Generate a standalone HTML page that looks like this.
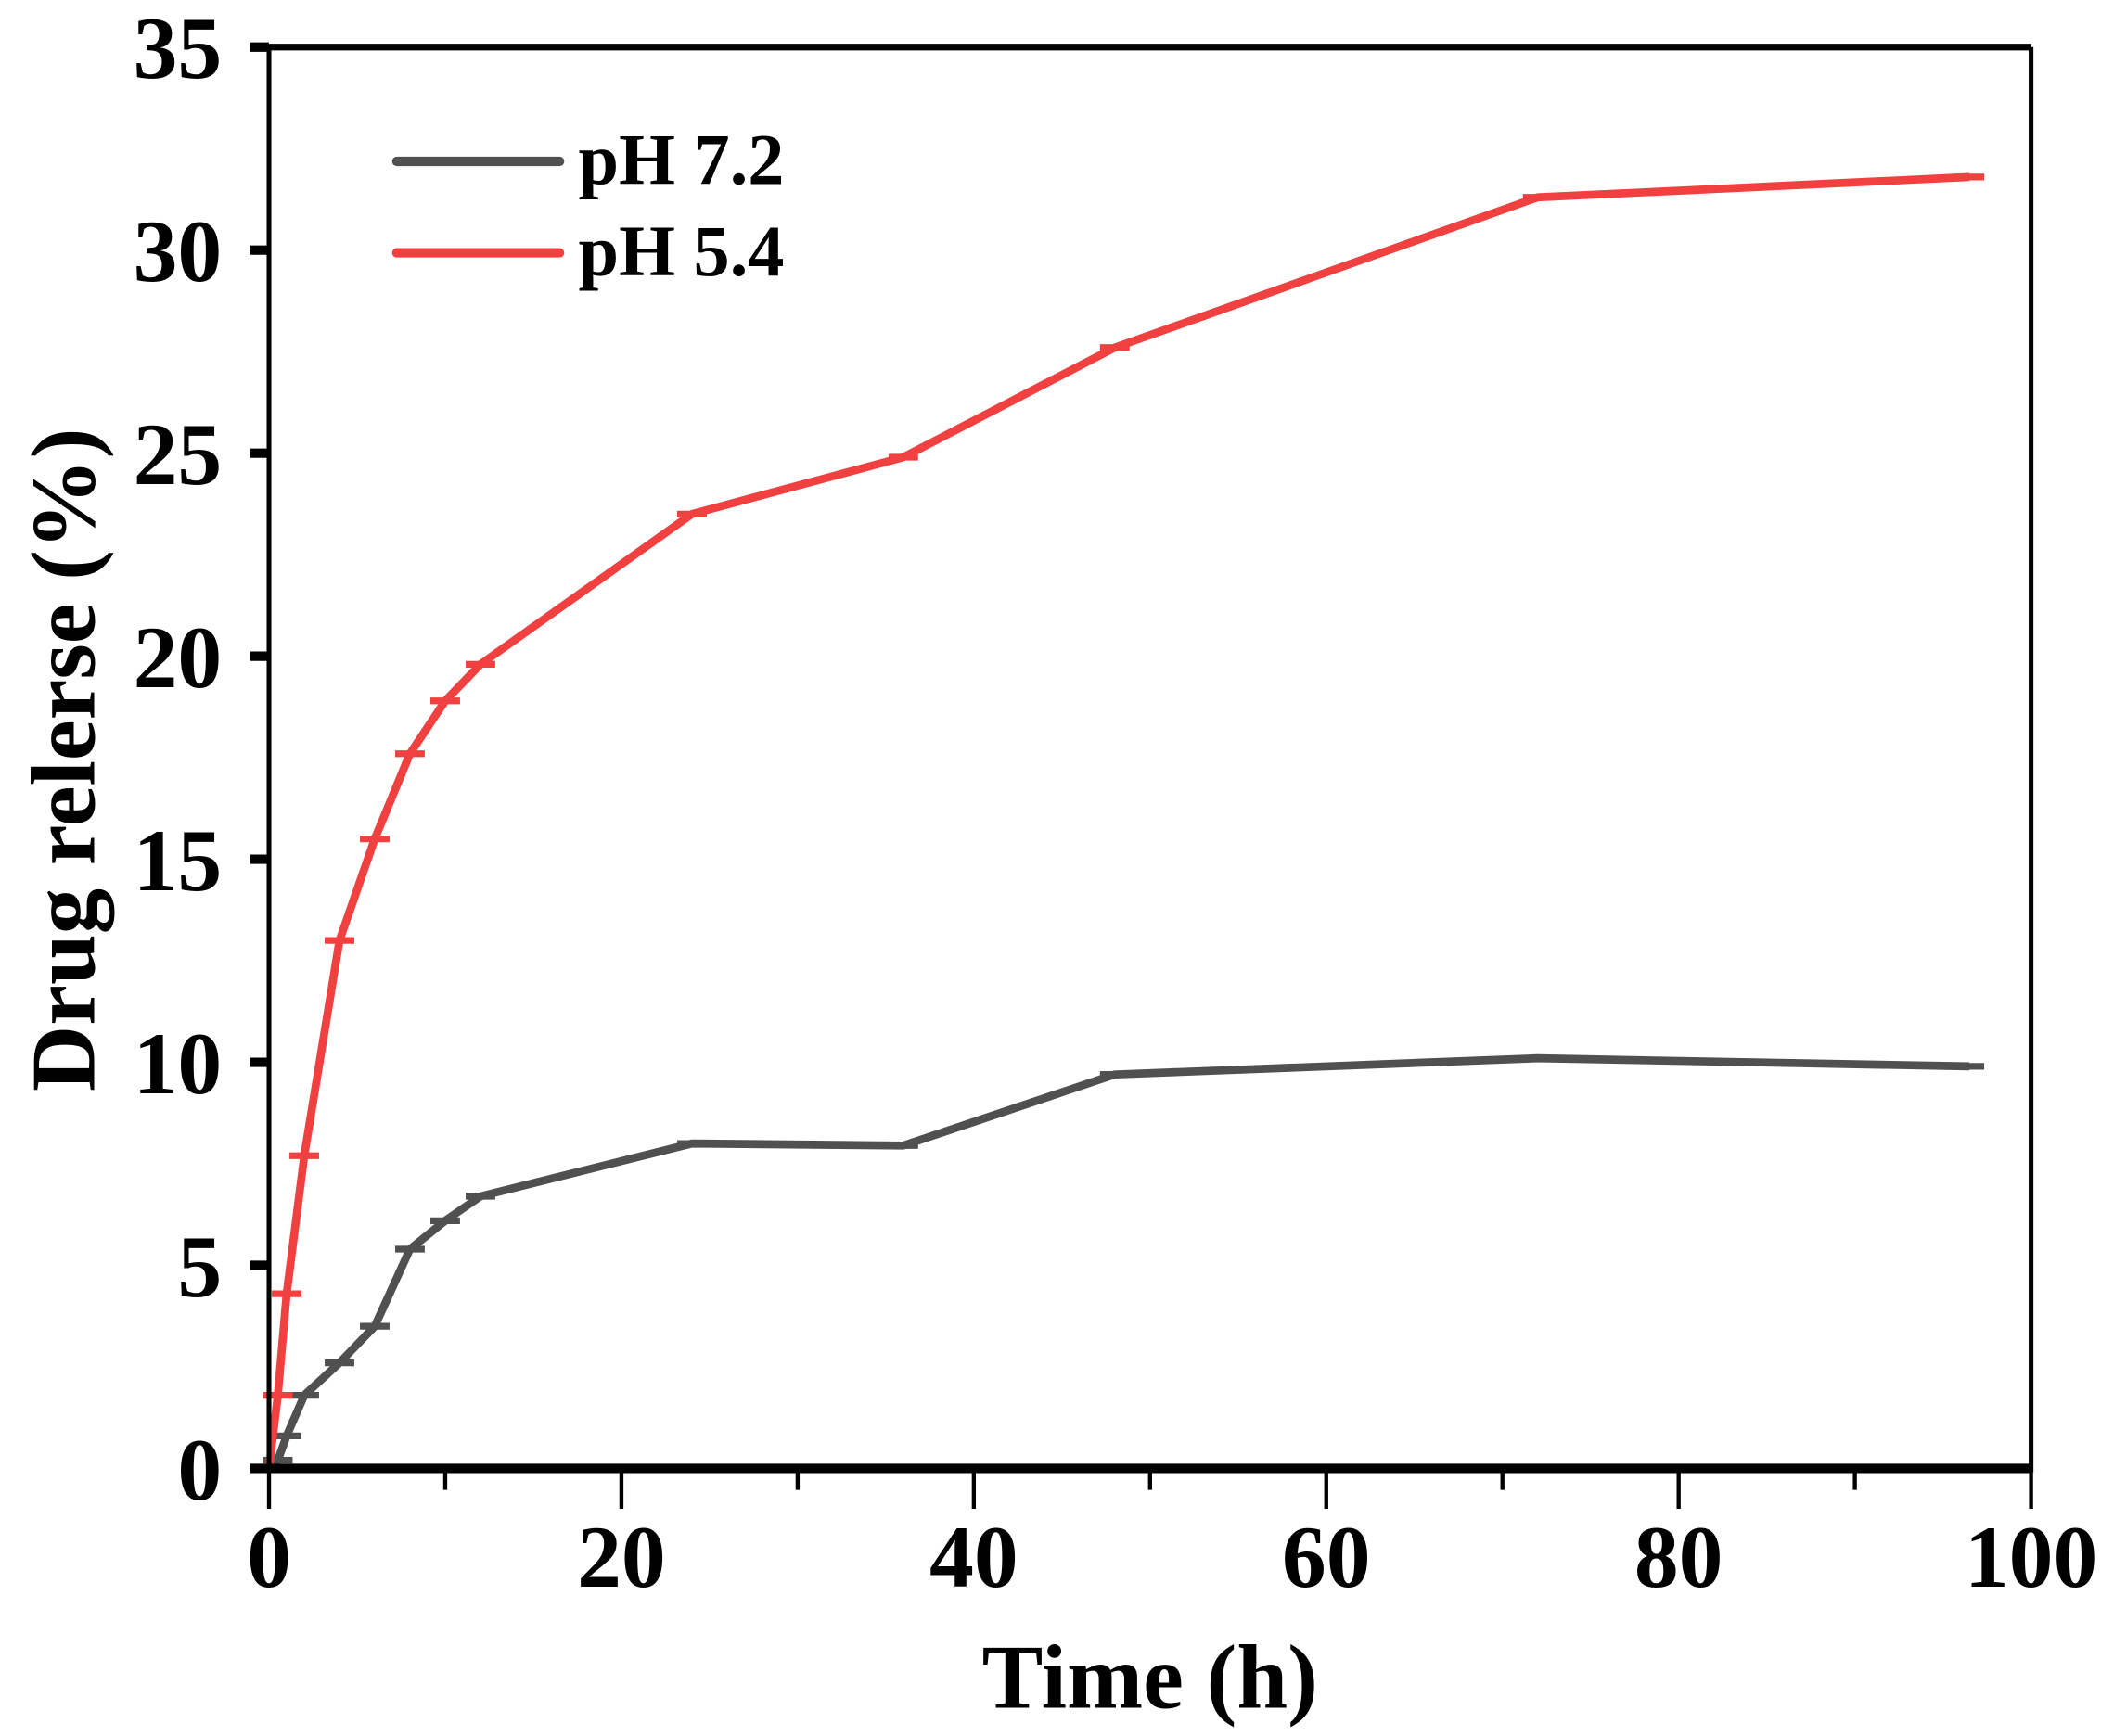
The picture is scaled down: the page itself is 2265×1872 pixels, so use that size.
<!DOCTYPE html>
<html><head><meta charset="utf-8"><style>
html,body{margin:0;padding:0;background:#fff;}
svg{display:block;}
text{font-family:"Liberation Serif",serif;font-weight:bold;fill:#000;}
</style></head>
<body>
<svg id="chart" width="2265" height="1872" viewBox="0 0 1562 1291" preserveAspectRatio="none" xmlns="http://www.w3.org/2000/svg">
<g id="plot"></g>
</svg>
<script>
const times = [0, 0.5, 1, 2, 4, 6, 8, 10, 12, 24, 36, 48, 72, 96.5];
const ph72 = [0, 0.2, 0.8, 1.8, 2.6, 3.5, 5.4, 6.1, 6.7, 8.0, 7.95, 9.7, 10.1, 9.9];
const ph54 = [0, 1.8, 4.3, 7.7, 13.0, 15.5, 17.6, 18.9, 19.8, 23.5, 24.9, 27.6, 31.3, 31.8];
const xTicks = [0, 20, 40, 60, 80, 100];
const yTicks = [0, 5, 10, 15, 20, 25, 30, 35];
const seriesNames = ["pH 7.2", "pH 5.4"];

const L=200,R=1510,T=35,B=1092;
const xs=v=>L+(v-0)/(100-0)*(R-L);
const ys=v=>B-(v-0)/(35-0)*(B-T);
const NS="http://www.w3.org/2000/svg";
const g=document.getElementById('plot');
function mk(tag,attrs,parent){const e=document.createElementNS(NS,tag);for(const k in attrs)e.setAttribute(k,attrs[k]);(parent||g).appendChild(e);return e;}

function drawSeries(vals,color,name){
  const pts=times.map((t,i)=>xs(t)+','+ys(vals[i])).join(' ');
  const pl=mk('polyline',{points:pts,fill:'none',stroke:color,'stroke-width':6,'stroke-linejoin':'round'});
  
  
  times.forEach((t,i)=>{
    const m=mk('line',{x1:xs(t)-11,x2:xs(t)+11,y1:ys(vals[i]),y2:ys(vals[i]),stroke:color,'stroke-width':5});
    
    
  });
}
drawSeries(ph72,'#505050','ph72');
drawSeries(ph54,'#f04040','ph54');

const ax=[[L,T,R,T,5],[L,B,R,B,7],[L,T-2,L,B+3,3.5],[R,T,R,B+3,3.5]];
ax.forEach(a=>{const e=mk('line',{x1:a[0],y1:a[1],x2:a[2],y2:a[3],stroke:'#000','stroke-width':a[4]});
  
  });

for(let v=0;v<=100;v+=10){
  const major=v%20===0;
  const t=mk('line',{x1:xs(v),x2:xs(v),y1:B,y2:B+(major?30:16),stroke:'#000','stroke-width':3});
  
  
}
xTicks.forEach(v=>{
  const t=mk('text',{x:xs(v),y:1180,'text-anchor':'middle','font-size':66});
  t.textContent=v;
  
  
});
yTicks.forEach(v=>{
  const t=mk('line',{x1:L-14,x2:L,y1:ys(v),y2:ys(v),stroke:'#000','stroke-width':7});
  
  
  const l=mk('text',{x:165,y:ys(v)+23,'text-anchor':'end','font-size':66});
  l.textContent=v;
  
  
});

const xt=mk('text',{x:855,y:1270,'text-anchor':'middle','font-size':68});
xt.textContent='Time (h)';


const yt=mk('text',{x:0,y:0,'text-anchor':'middle','font-size':68,transform:'translate(70,565) rotate(-90)'});
yt.textContent='Drug relerse (%)';



const legColors=['#505050','#f04040'];
seriesNames.forEach((n,i)=>{
  const y=120+i*68;
  const ln=mk('line',{x1:295,x2:416,y1:y,y2:y,stroke:legColors[i],'stroke-width':7,'stroke-linecap':'round'});
  
  
  const tx=mk('text',{x:430,y:y+17,'font-size':54});
  tx.textContent=n;
  
  
});
</script>
</body></html>
